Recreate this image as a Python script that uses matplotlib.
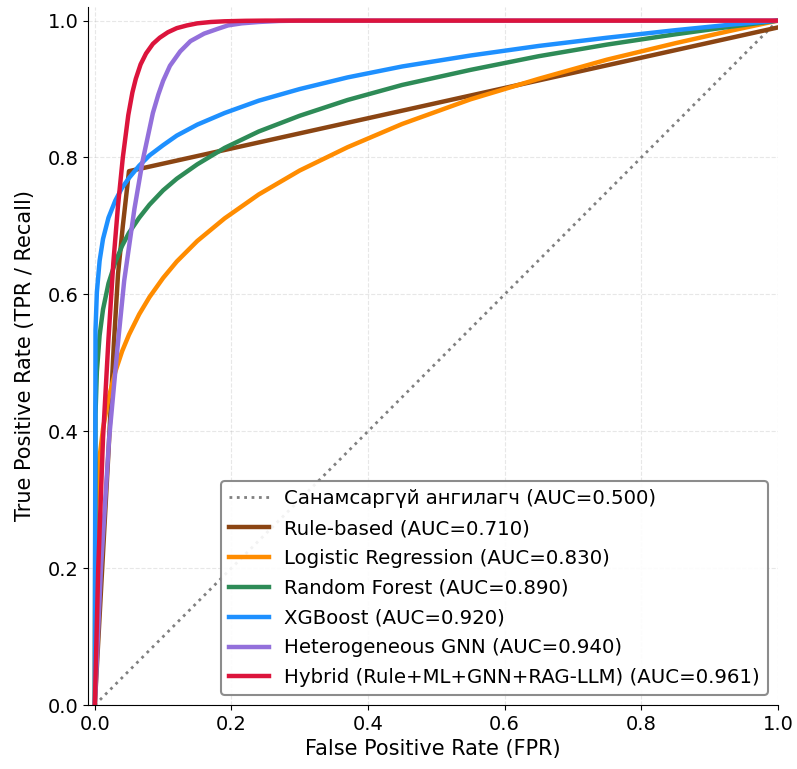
import matplotlib
matplotlib.use("Agg")
import matplotlib.pyplot as plt

# ── data ────────────────────────────────────────────────────────────
grid_fpr = [0, 0.001, 0.003, 0.007, 0.012, 0.02, 0.03, 0.04, 0.05, 0.065,
            0.08, 0.1, 0.12, 0.15, 0.19, 0.24, 0.3, 0.37, 0.45, 0.55,
            0.65, 0.75, 0.85, 0.93, 1.0]

xgb_tpr = [0, 0.548, 0.603, 0.649, 0.681, 0.712, 0.737, 0.756, 0.770, 0.788,
           0.803, 0.818, 0.832, 0.848, 0.865, 0.883, 0.900, 0.917, 0.933, 0.949,
           0.963, 0.975, 0.986, 0.994, 1.0]
rf_tpr = [0, 0.425, 0.487, 0.540, 0.578, 0.616, 0.647, 0.671, 0.690, 0.712,
          0.731, 0.752, 0.769, 0.790, 0.814, 0.838, 0.861, 0.884, 0.906, 0.928,
          0.948, 0.965, 0.980, 0.991, 1.0]
lr_tpr = [0, 0.243, 0.304, 0.362, 0.404, 0.448, 0.487, 0.517, 0.541, 0.571,
          0.596, 0.624, 0.648, 0.678, 0.711, 0.746, 0.781, 0.815, 0.849, 0.885,
          0.915, 0.943, 0.967, 0.985, 1.0]

rule_fpr = [0, 0.02, 0.028, 0.034, 0.041, 0.05, 1.0]
rule_tpr = [0, 0.37, 0.53, 0.63, 0.70, 0.78, 0.99]

gnn_fpr = [0, 0.009, 0.021, 0.033, 0.043, 0.058, 0.07, 0.085, 0.093, 0.10,
           0.11, 0.125, 0.14, 0.16, 0.18, 0.195, 0.215, 0.24, 0.27, 0.3, 1.0]
gnn_tpr = [0, 0.20, 0.39, 0.52, 0.62, 0.725, 0.795, 0.865, 0.892, 0.912,
           0.934, 0.955, 0.970, 0.981, 0.988, 0.993, 0.996, 0.998, 0.9995, 1.0, 1.0]

hyb_fpr = [0, 0.005, 0.012, 0.02, 0.027, 0.034, 0.041, 0.049, 0.055, 0.06,
           0.067, 0.075, 0.085, 0.095, 0.107, 0.12, 0.135, 0.15, 0.17, 0.19,
           0.22, 0.25, 1.0]
hyb_tpr = [0, 0.20, 0.39, 0.535, 0.645, 0.73, 0.80, 0.862, 0.895, 0.915,
           0.936, 0.952, 0.966, 0.975, 0.983, 0.989, 0.993, 0.996, 0.998, 0.999,
           0.9997, 1.0, 1.0]

rand_fpr = [0, 1]
rand_tpr = [0, 1]

labels = ["Санамсаргүй ангилагч (AUC=0.500)",
          "Rule-based (AUC=0.710)",
          "Logistic Regression (AUC=0.830)",
          "Random Forest (AUC=0.890)",
          "XGBoost (AUC=0.920)",
          "Heterogeneous GNN (AUC=0.940)",
          "Hybrid (Rule+ML+GNN+RAG-LLM) (AUC=0.961)"]

# ── figure ──────────────────────────────────────────────────────────
fig, ax = plt.subplots(figsize=(7.97, 7.69), dpi=100)
fig.subplots_adjust(left=0.1104, right=0.976, bottom=0.0832, top=0.991)

LW = 3.2
ax.plot(rand_fpr, rand_tpr, ":", color="gray", lw=2, label=labels[0])
ax.plot(rule_fpr, rule_tpr, color="#8B4513", lw=LW, label=labels[1])
ax.plot(grid_fpr, lr_tpr, color="#FF8C00", lw=LW, label=labels[2])
ax.plot(grid_fpr, rf_tpr, color="#2E8B57", lw=LW, label=labels[3])
ax.plot(grid_fpr, xgb_tpr, color="#1E90FF", lw=LW, label=labels[4])
ax.plot(gnn_fpr, gnn_tpr, color="#9370DB", lw=LW, label=labels[5])
ax.plot(hyb_fpr, hyb_tpr, color="#DC143C", lw=LW, label=labels[6])

ax.set_xlim(-0.01, 1.0)
ax.set_ylim(0, 1.02)
ax.set_xlabel("False Positive Rate (FPR)", fontsize=15)
ax.set_ylabel("True Positive Rate (TPR / Recall)", fontsize=15, labelpad=9)
ax.tick_params(labelsize=14)
ax.grid(True, ls="--", alpha=0.3)
ax.spines["top"].set_visible(False)
ax.spines["right"].set_visible(False)

leg = ax.legend(loc="lower right", fontsize=14.2, labelspacing=0.55, framealpha=0.9)
leg.get_frame().set_edgecolor("gray")
leg.get_frame().set_linewidth(1.5)

fig.savefig("out.png", dpi=100)
